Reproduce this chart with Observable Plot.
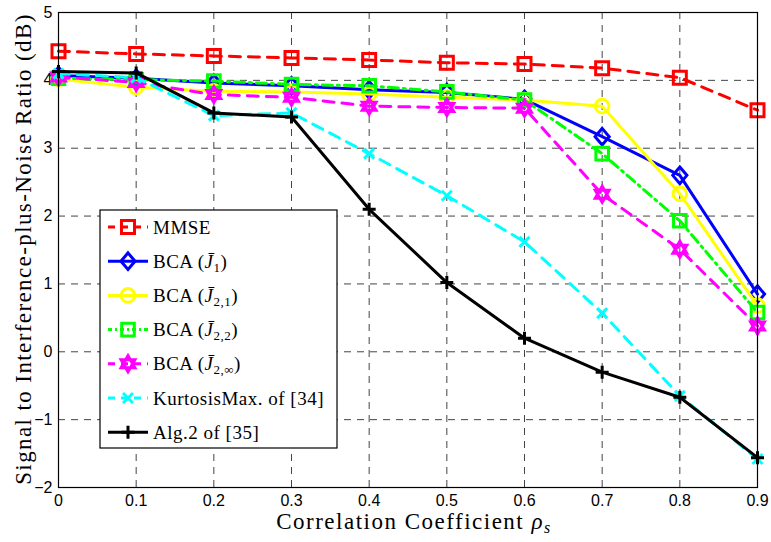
<!DOCTYPE html>
<html><head><meta charset="utf-8">
<script src="https://cdn.jsdelivr.net/npm/d3@7"></script>
<script src="https://cdn.jsdelivr.net/npm/@observablehq/plot@0.6"></script>
<style>body{margin:0;background:#fff} svg text.serif{font-family:"Liberation Serif","DejaVu Serif",serif !important}</style>
</head><body><div id="chart"></div>
<script>
const rho = [0,0.1,0.2,0.3,0.4,0.5,0.6,0.7,0.8,0.9];
const mmse    = [4.43,4.39,4.36,4.33,4.30,4.26,4.24,4.18,4.04,3.56];
const bcaJ1   = [4.07,4.03,3.96,3.92,3.86,3.82,3.72,3.17,2.60,0.85];
const bcaJ21  = [4.02,3.90,3.84,3.83,3.80,3.75,3.71,3.62,2.33,0.68];
const bcaJ22  = [4.03,4.01,3.99,3.94,3.92,3.83,3.71,2.92,1.93,0.58];
const bcaJ2inf= [4.05,3.97,3.79,3.75,3.62,3.60,3.59,2.32,1.51,0.38];
const kurt    = [4.10,4.04,3.48,3.52,2.92,2.30,1.62,0.57,-0.65,-1.58];
const alg2    = [4.13,4.11,3.52,3.46,2.10,1.02,0.20,-0.30,-0.67,-1.56];
const xTicks = [0,0.1,0.2,0.3,0.4,0.5,0.6,0.7,0.8,0.9];
const yTicks = [-2,-1,0,1,2,3,4,5];
const legendLabels = [
  [["MMSE"]],
  [["BCA ("],["J\u0304","i"],["1","s"],[")"]],
  [["BCA ("],["J\u0304","i"],["2,1","s"],[")"]],
  [["BCA ("],["J\u0304","i"],["2,2","s"],[")"]],
  [["BCA ("],["J\u0304","i"],["2,\u221e","s"],[")"]],
  [["KurtosisMax. of [34]"]],
  [["Alg.2 of [35]"]]
];

const R = size => Math.sqrt(size / Math.PI);
const symSquare = {draw(c, s){const r=R(s); c.rect(-r,-r,2*r,2*r);}};
const symDiamond = {draw(c, s){const r=R(s), w=r*0.85; c.moveTo(0,-r); c.lineTo(w,0); c.lineTo(0,r); c.lineTo(-w,0); c.closePath();}};
const symCircle = {draw(c, s){const r=R(s); c.moveTo(r,0); c.arc(0,0,r,0,2*Math.PI);}};
const symTimes = {draw(c, s){const r=R(s); c.moveTo(-r,-r); c.lineTo(r,r); c.moveTo(r,-r); c.lineTo(-r,r);}};
const symPlus = {draw(c, s){const r=R(s); c.moveTo(-r,0); c.lineTo(r,0); c.moveTo(0,-r); c.lineTo(0,r);}};
const symHexagram = {draw(c, s){
  const r = R(s);
  for (const off of [-90, 90]) {
    for (let k = 0; k < 3; k++) {
      const a = (off + k * 120) * Math.PI / 180;
      if (k === 0) c.moveTo(r*Math.cos(a), r*Math.sin(a)); else c.lineTo(r*Math.cos(a), r*Math.sin(a));
    }
    c.closePath();
  }
}};

const series = [
  {vals:mmse, color:"#ff0000", dash:"11,8", ldash:"7,6", symbol:symSquare, r:6.5},
  {vals:bcaJ1, color:"#0000ff", dash:null, symbol:symDiamond, r:8.3},
  {vals:bcaJ21, color:"#ffff00", dash:null, symbol:symCircle, r:6.8},
  {vals:bcaJ22, color:"#00ff00", dash:"10,5,2,5", ldash:"4,3,2,3", symbol:symSquare, r:6.3},
  {vals:bcaJ2inf, color:"#ff00ff", dash:"11,8", ldash:"7,6", symbol:symHexagram, r:8},
  {vals:kurt, color:"#00ffff", dash:"11,8", ldash:"7,6", symbol:symTimes, r:5},
  {vals:alg2, color:"#000000", dash:null, symbol:symPlus, r:6.5}
];

const marks = [
  Plot.ruleX(xTicks.slice(1, -1), {stroke:"#444", strokeWidth:1, strokeDasharray:"7,6"}),
  Plot.ruleY(yTicks.slice(1, -1), {stroke:"#444", strokeWidth:1, strokeDasharray:"7,6"}),
  Plot.axisX({ticks:xTicks, tickSize:0, tickPadding:7, tickFormat:d => d === 0 ? "0" : d3.format(".1f")(d), label:null, fontSize:16}),
  Plot.axisY({ticks:yTicks, tickSize:0, tickPadding:6, tickFormat:d => d < 0 ? "\u2212" + Math.abs(d) : String(d), label:null, fontSize:16})
];
for (const s of series) {
  const data = rho.map((x, i) => ({x, y:s.vals[i]}));
  marks.push(Plot.line(data, {x:"x", y:"y", stroke:s.color, strokeWidth:3, strokeDasharray:s.dash || undefined}));
  marks.push(Plot.dot(data, {x:"x", y:"y", symbol:s.symbol, r:s.r, stroke:s.color, strokeWidth:3, fill:"none"}));
}
marks.push(Plot.frame({stroke:"black", strokeWidth:1.2}));

const chart = Plot.plot({
  width:771, height:542,
  marginLeft:58, marginRight:14, marginTop:12, marginBottom:55,
  x:{domain:[0,0.9]},
  y:{domain:[-2,5]},
  style:{fontFamily:"'Liberation Sans', Arial, sans-serif", fontSize:"16px", background:"white", color:"black"},
  marks
});
document.getElementById("chart").appendChild(chart);

const svg = d3.select(chart);

// axis labels
const xl = svg.append("text").attr("class","serif").attr("x", 414).attr("y", 529).attr("text-anchor","middle")
  .attr("font-size", 23).attr("letter-spacing", 1.5).attr("fill","black");
xl.append("tspan").text("Correlation Coefficient ");
xl.append("tspan").attr("font-style","italic").text("\u03c1");
xl.append("tspan").attr("font-style","italic").attr("font-size",16).attr("dy",4).text("s");

svg.append("text").attr("class","serif").attr("transform","translate(31,249) rotate(-90)").attr("text-anchor","middle")
  .attr("font-size", 23).attr("letter-spacing", 1.4).attr("fill","black")
  .text("Signal to Interference-plus-Noise Ratio (dB)");

// legend
const lg = svg.append("g").attr("text-anchor","start");
lg.append("rect").attr("x",100).attr("y",210).attr("width",237).attr("height",238)
  .attr("fill","white").attr("stroke","black").attr("stroke-width",1.2);
series.forEach((s, i) => {
  const cy = 227 + i * 34.2;
  lg.append("line").attr("x1",108).attr("x2",148).attr("y1",cy).attr("y2",cy)
    .attr("stroke", s.color).attr("stroke-width",3)
    .attr("stroke-dasharray", s.ldash || null);
  lg.append("path").attr("transform", `translate(128,${cy})`)
    .attr("d", d3.symbol(s.symbol, Math.PI * s.r * s.r)())
    .attr("fill","none").attr("stroke", s.color).attr("stroke-width",3);
  const t = lg.append("text").attr("class","serif").attr("x",153).attr("y",cy + 6.5).attr("text-anchor","start")
    .attr("font-size",19).attr("letter-spacing",0.5).attr("fill","black");
  let shifted = false;
  for (const [txt, kind] of legendLabels[i]) {
    const ts = t.append("tspan").text(txt);
    if (kind === "i") ts.attr("font-style","italic");
    if (kind === "s") { ts.attr("font-size",13).attr("dy",4); shifted = true; }
    else if (shifted) { ts.attr("dy",-4); shifted = false; }
  }
});
</script></body></html>
